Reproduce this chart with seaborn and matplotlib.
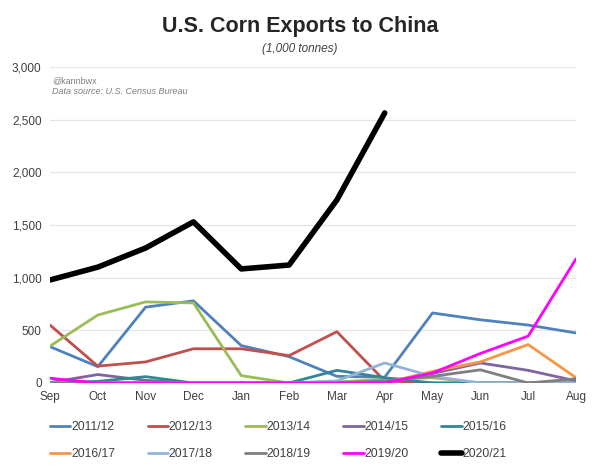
import pandas as pd
import numpy as np
import matplotlib.pyplot as plt
import seaborn as sns

# ── Data (1,000 tonnes) ──────────────────────────────────────
months = ['Sep', 'Oct', 'Nov', 'Dec', 'Jan', 'Feb', 'Mar', 'Apr', 'May', 'Jun', 'Jul', 'Aug']

y2011 = [345, 155, 720, 780, 355, 250, 63, 55, 665, 600, 550, 475]
y2012 = [550, 160, 200, 325, 325, 260, 487, 20, 0, 0, 0, 0]
y2013 = [350, 645, 770, 760, 70, 0, 10, 35, 50, 0, 0, 0]
y2014 = [5, 80, 25, 0, 0, 0, 0, 0, 90, 190, 120, 20]
y2015 = [0, 15, 60, 0, 0, 0, 120, 50, 0, 0, 0, 0]
y2016 = [0, 0, 0, 0, 0, 0, 0, 0, 110, 200, 365, 50]
y2017 = [0, 0, 0, 0, 0, 0, 20, 190, 63, 0, 0, 0]
y2018 = [0, 0, 0, 0, 0, 0, 0, 20, 63, 125, 0, 40]
y2019 = [45, 0, 0, 0, 0, 0, 0, 0, 95, 280, 445, 1178]
y2020 = [978, 1100, 1282, 1530, 1083, 1120, 1738, 2564]

seasons = ['2011/12', '2012/13', '2013/14', '2014/15', '2015/16',
           '2016/17', '2017/18', '2018/19', '2019/20', '2020/21']
series = [y2011, y2012, y2013, y2014, y2015, y2016, y2017, y2018, y2019, y2020]
colors = ['#4F81BD', '#C0504D', '#9BBB59', '#8064A2', '#31859C',
          '#F79646', '#95B3D7', '#7F7F7F', '#FF00FF', '#000000']

rows = []
for s, vals in zip(seasons, series):
    for i, v in enumerate(vals):
        rows.append([s, i, v])
df = pd.DataFrame(rows, columns=['Season', 'Month', 'Exports'])

# ── Plot ─────────────────────────────────────────────────────
sns.set_style('white')
plt.rcParams['font.family'] = ['Liberation Sans', 'DejaVu Sans']

fig = plt.figure(figsize=(6, 4.73), dpi=100)
ax = fig.add_axes([0.0833, 0.1903, 0.8767, 0.668])

widths = {s: 2.0 for s in seasons}
widths['2020/21'] = 4.0
for s, c in zip(seasons, colors):
    sns.lineplot(data=df[df['Season'] == s], x='Month', y='Exports', ax=ax,
                 color=c, linewidth=widths[s], label=s, zorder=3 if s != '2020/21' else 4)

ax.set_xlim(0, 11)
ax.set_ylim(0, 3000)
ax.set_xticks(range(12))
ax.set_xticklabels(months)
ax.set_yticks(range(0, 3001, 500))
ax.set_yticklabels([f'{v:,}' for v in range(0, 3001, 500)])
ax.tick_params(labelsize=8.5, colors='#404040', length=0, pad=6)
ax.set_xlabel('')
ax.set_ylabel('')
ax.grid(axis='y', color='#E5E5E5', linewidth=0.9)
ax.set_axisbelow(True)
for sp in ['top', 'right', 'left', 'bottom']:
    ax.spines[sp].set_visible(False)

fig.text(0.5, 0.943, 'U.S. Corn Exports to China', ha='center', va='center',
         fontsize=15.5, fontweight='bold', color='#262626')
fig.text(0.5, 0.897, '(1,000 tonnes)', ha='center', va='center',
         fontsize=8.5, style='italic', color='#404040')
ax.text(0.004, 0.957, '@kannbwx', transform=ax.transAxes, fontsize=6.5,
        color='#7F7F7F', va='center')
ax.text(0.004, 0.922, 'Data source: U.S. Census Bureau', transform=ax.transAxes,
        fontsize=6.5, style='italic', color='#7F7F7F', va='center')

# legend in row order, 5 columns
handles, labels = ax.get_legend_handles_labels()
order = [0, 5, 1, 6, 2, 7, 3, 8, 4, 9]
ax.legend([handles[i] for i in order], [labels[i] for i in order],
          ncol=5, loc='upper left', bbox_to_anchor=(0.083, 0.11),
          bbox_transform=fig.transFigure, borderpad=0, borderaxespad=0,
          frameon=False, fontsize=8.7, handlelength=1.7, handletextpad=0.05,
          columnspacing=2.7, labelspacing=1.25, labelcolor='#404040')

plt.savefig('out.png', dpi=100)
